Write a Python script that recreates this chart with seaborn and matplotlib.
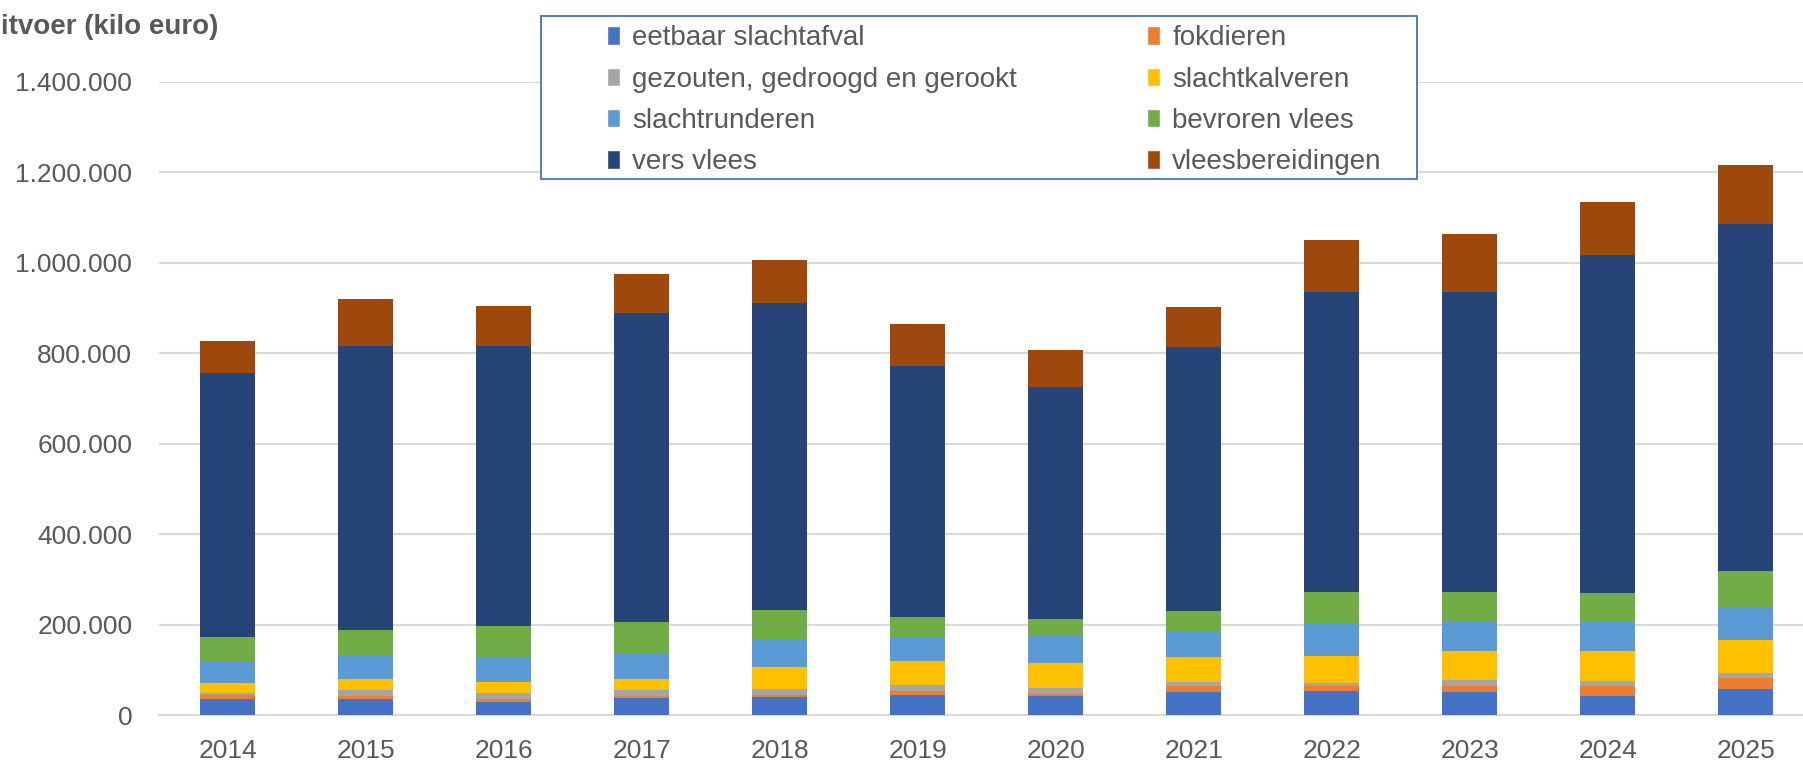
import numpy as np
import pandas as pd
import matplotlib
matplotlib.use("Agg")
import matplotlib.pyplot as plt
from matplotlib.patches import Rectangle, Patch
from matplotlib.ticker import FuncFormatter, MultipleLocator
import seaborn as sns

# export per product group (kilo euro)
years = ["2014", "2015", "2016", "2017", "2018", "2019", "2020", "2021", "2022", "2023", "2024", "2025"]
eetbaar_slachtafval = [35.4, 35.4, 30.2, 37.6, 41.3, 45.7, 42.8, 50.7, 53.0, 50.7, 42.5, 57.5]
fokdieren = [8.9, 6.6, 5.9, 4.4, 4.4, 8.9, 5.2, 13.4, 12.7, 14.2, 22.4, 23.9]
gezouten = [5.9, 13.3, 14.0, 14.8, 13.3, 11.8, 13.3, 9.0, 5.2, 13.4, 11.2, 11.9]
slachtkalveren = [20.7, 25.8, 24.3, 22.9, 48.0, 53.9, 55.3, 55.2, 60.4, 64.2, 65.7, 72.4]
slachtrunderen = [47.2, 49.4, 52.4, 56.8, 60.5, 52.4, 59.0, 57.5, 72.4, 63.4, 64.2, 71.6]
bevroren_vlees = [53.9, 58.3, 71.6, 70.1, 64.2, 45.0, 37.6, 45.5, 67.9, 67.2, 64.9, 81.3]
vers_vlees = [583.7, 628.2, 617.1, 681.2, 679.0, 553.5, 511.5, 583.5, 662.7, 661.2, 745.3, 766.3]
vleesbereidingen = [72.3, 102.6, 89.3, 87.1, 94.5, 93.0, 83.4, 86.3, 116.6, 129.2, 118.1, 129.9]

series = [
    ("eetbaar slachtafval", eetbaar_slachtafval, "#4472C4"),
    ("fokdieren", fokdieren, "#ED7D31"),
    ("gezouten, gedroogd en gerookt", gezouten, "#A5A5A5"),
    ("slachtkalveren", slachtkalveren, "#FFC000"),
    ("slachtrunderen", slachtrunderen, "#5B9BD5"),
    ("bevroren vlees", bevroren_vlees, "#70AD47"),
    ("vers vlees", vers_vlees, "#264478"),
    ("vleesbereidingen", vleesbereidingen, "#9E480E"),
]

grey = "#595959"
sns.set_style("white")
plt.rcParams["font.family"] = ["Liberation Sans", "DejaVu Sans"]

fig = plt.figure(figsize=(18.03, 7.63), dpi=100)
ax = fig.add_axes([0.088, 0.0625, 0.9185, 0.8305])

bottom = np.zeros(len(years))
handles = []
for name, vals, col in series:
    v = np.array(vals) * 1000
    df = pd.DataFrame({"jaar": years, "waarde": v})
    sns.barplot(data=df, x="jaar", y="waarde", color=col, saturation=1, width=0.4,
                bottom=bottom.copy(), linewidth=0, ax=ax, zorder=3)
    bottom += v
    handles.append(Patch(facecolor=col, label=name))

ax.set_ylim(0, 1400000)
ax.set_xlim(-0.5, len(years) - 0.5)
ax.yaxis.set_major_locator(MultipleLocator(200000))
ax.yaxis.set_major_formatter(FuncFormatter(lambda v, p: f"{int(v):,}".replace(",", ".")))
ax.grid(axis="y", color="#D9D9D9", linewidth=1.5, zorder=0)
ax.set_axisbelow(True)
for s in ["top", "right", "left"]:
    ax.spines[s].set_visible(False)
ax.spines["bottom"].set_color("#D9D9D9")
ax.spines["bottom"].set_linewidth(1.5)
ax.tick_params(axis="both", length=0, labelsize=19, labelcolor=grey)
ax.tick_params(axis="x", pad=17)
ax.tick_params(axis="y", pad=19)
ax.set_xlabel("")
ax.set_ylabel("")

fig.text(-0.0108, 0.964, "Uitvoer (kilo euro)", fontsize=20, fontweight="bold",
         color=grey, va="center", ha="left")

# legend box, row-wise order like the original
fig.patches.append(Rectangle((0.2998, 0.7649), 0.486, 0.2142, transform=fig.transFigure,
                             facecolor="white", edgecolor="#4472C4", linewidth=1.3, zorder=4))
order = [0, 2, 4, 6, 1, 3, 5, 7]
fig.legend(handles=[handles[i] for i in order], ncols=2, loc="upper left",
           bbox_to_anchor=(0.3367, 0.9667), frameon=False, borderpad=0, borderaxespad=0,
           fontsize=20, labelcolor=grey,
           handlelength=0.45, handleheight=0.65, handletextpad=0.45,
           columnspacing=4.7, labelspacing=0.55)

fig.savefig("out.png", dpi=100)
